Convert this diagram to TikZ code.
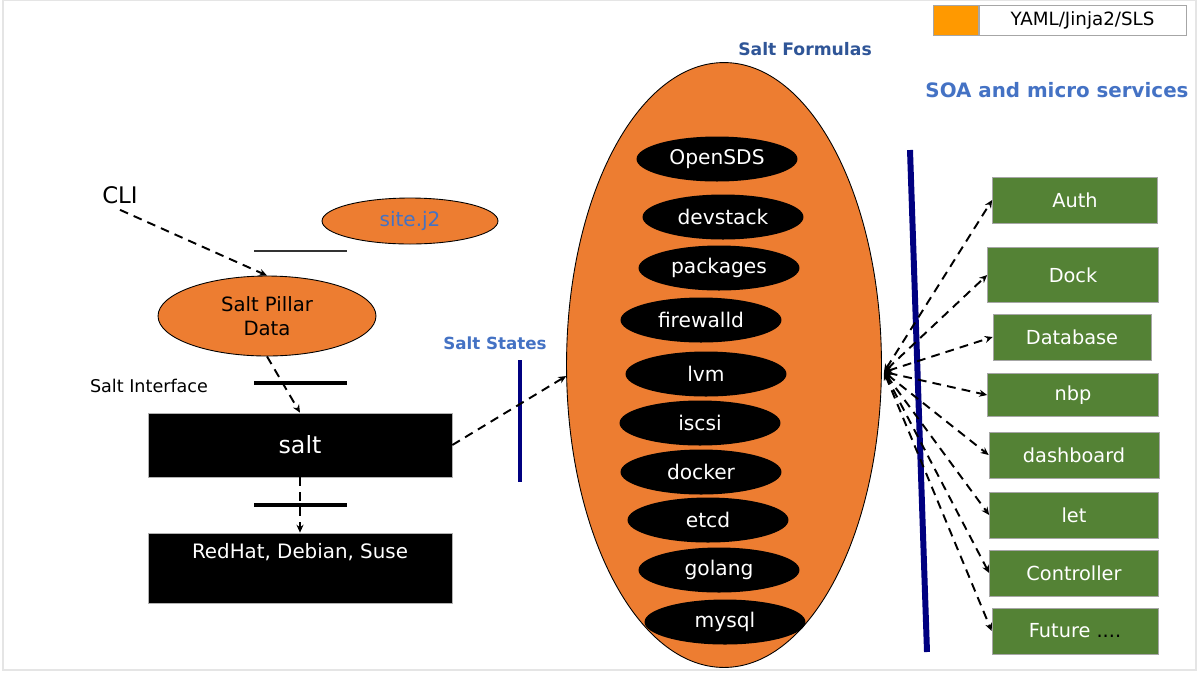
\documentclass[tikz,border=0pt]{standalone}
\usepackage{fontspec}
\setmainfont{DejaVu Sans}
\usetikzlibrary{arrows.meta,positioning,shapes.geometric}
\definecolor{saltorange}{HTML}{ED7D31}
\definecolor{legendorange}{HTML}{FF9900}
\definecolor{svcgreen}{HTML}{548235}
\definecolor{titleblue}{HTML}{4472C4}
\definecolor{darkblue}{HTML}{2F5597}
\definecolor{barblue}{HTML}{000080}
\tikzset{
    flow/.style={line width=1.1pt, dash pattern=on 5pt off 3.5pt, -{Stealth[length=4.5pt,width=4pt]}},
    twoflow/.style={flow, {Stealth[length=4.5pt,width=4pt]}-{Stealth[length=4.5pt,width=4pt]}},
    formula/.style={ellipse, fill=black, text=white, minimum width=3.22cm, minimum height=0.9cm, inner sep=0pt, font=\fontsize{11.5}{13}\selectfont},
    svcbox/.style={draw=gray!70, fill=svcgreen, text=white, inner sep=0pt, minimum height=0.92cm, font=\fontsize{11}{13}\selectfont},
    osbox/.style={draw=gray!60, fill=black, text=white, minimum width=6.08cm, inner sep=0pt},
    yamlnode/.style={ellipse, draw=black, line width=0.5pt, fill=saltorange, inner sep=0pt},
    bluetitle/.style={text=titleblue, font=\bfseries\fontsize{#1}{13}\selectfont},
    iface/.style={line width=2.3pt},
    statebar/.style={barblue, line width=#1}
}

\begin{document}
\begin{tikzpicture}[x=0.02cm, y=-0.02cm]
    \useasboundingbox (0,0) rectangle (1200,674);
    \draw[gray!20, line width=1pt] (3,0) rectangle (1196,670);

    % legend
    \node[draw=gray!70, fill=legendorange, minimum width=0.9cm, minimum height=0.6cm, inner sep=0pt, anchor=north west] (legendkey) at (933,5) {};
    \node[draw=gray!70, minimum width=4.14cm, minimum height=0.6cm, inner sep=0pt, right=0pt of legendkey, font=\fontsize{10.4}{12}\selectfont] (legendtext) {YAML/Jinja2/SLS};

    % titles
    \node[bluetitle=11.3] (soa) at (1057,90) {SOA and micro services};
    \node[bluetitle=9.8, text=darkblue] (formtitle) at (805,49) {Salt Formulas};
    \node[bluetitle=9.5] (statetitle) at (495,343) {Salt States};

    % left side
    \node[font=\fontsize{13}{15}\selectfont] (cli) at (120,195) {CLI};
    \node[yamlnode, minimum width=3.52cm, minimum height=0.92cm, text=titleblue, font=\fontsize{11.4}{13}\selectfont] (site) at (410,221) {site.j2};
    \draw[line width=0.8pt, black!80] (254,251) -- (347,251);
    \node[yamlnode, minimum width=4.36cm, minimum height=1.6cm, align=center, font=\fontsize{11.2}{13.6}\selectfont] (pillar) at (267,316) {Salt Pillar\\Data};
    \node[font=\fontsize{10}{12}\selectfont] (ifacetext) at (149,386) {Salt Interface};
    \draw[iface] (254,383) -- (347,383);
    \node[osbox, minimum height=1.28cm, font=\fontsize{13.5}{15}\selectfont] (salt) at (300,445) {salt};
    \draw[iface] (254,505) -- (347,505);
    \node[osbox, minimum height=1.4cm, text height=0.3cm, text depth=0.7cm, font=\fontsize{11.3}{13}\selectfont] (distro) at (300,568) {RedHat, Debian, Suse};

    \draw[flow] (cli.south) -- (pillar.north);
    \draw[flow] (pillar.south) -- (salt.north);
    \draw[flow] (salt.south) -- (distro.north);

    % salt formulas
    \node[yamlnode, minimum width=6.3cm, minimum height=12.1cm] (formulas) at (724,365) {};
    \node[formula] (opensds) at (717,159) {OpenSDS};
    \node[formula] (devstack) at (723,217) {devstack};
    \node[formula] (packages) at (719,268) {packages};
    \node[formula] (firewalld) at (701,320) {firewalld};
    \node[formula] (lvm) at (706,374) {lvm};
    \node[formula] (iscsi) at (700,423) {iscsi};
    \node[formula] (docker) at (701,472) {docker};
    \node[formula] (etcd) at (708,520) {etcd};
    \node[formula] (golang) at (719,570) {golang};
    \node[formula] (mysql) at (725,622) {mysql};

    \draw[statebar=2.3pt] (520,360) -- (520,482);
    \draw[flow] (salt.east) -- (formulas.184);

    % services
    \node[svcbox, minimum width=3.3cm] (auth) at (1075,200) {Auth};
    \node[svcbox, minimum width=3.42cm, minimum height=1.1cm] (dock) at (1073,275) {Dock};
    \node[svcbox, minimum width=3.16cm] (database) at (1072,337) {Database};
    \node[svcbox, minimum width=3.42cm, minimum height=0.86cm] (nbp) at (1073,395) {nbp};
    \node[svcbox, minimum width=3.4cm] (dashboard) at (1074,455) {dashboard};
    \node[svcbox, minimum width=3.38cm] (let) at (1074,515) {let};
    \node[svcbox, minimum width=3.38cm] (controller) at (1074,573) {Controller};
    \node[svcbox, minimum width=3.32cm] (future) at (1075,631) {Future \textcolor{black}{....}};

    \draw[statebar=3.4pt] (910,150) -- (927,652);
    \coordinate (fan) at (884,372);
    \foreach \svc in {auth,dock,database,nbp,dashboard,let,controller,future}
        \draw[twoflow] (fan) -- (\svc.west);
\end{tikzpicture}
\end{document}
